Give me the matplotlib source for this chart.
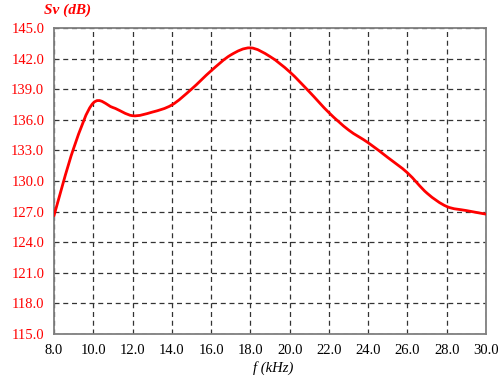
import matplotlib
matplotlib.use('Agg')
import matplotlib.pyplot as plt
from matplotlib.path import Path
from matplotlib.patches import PathPatch

# frequency (kHz) and Sv (dB)
freq = [8, 9, 10, 11, 12, 13, 14, 15, 16, 17, 18, 19, 20, 21, 22, 23, 24, 25, 26, 27, 28, 29, 30]
sv = [126.6, 133.2, 137.65, 137.2, 136.4, 136.75, 137.45, 139.0, 140.8, 142.35, 143.05, 142.2, 140.7,
      138.75, 136.7, 135.0, 133.75, 132.3, 130.8, 128.8, 127.5, 127.1, 126.75]

xticks = [8 + 2 * i for i in range(12)]
yticks = [115 + 3 * i for i in range(11)]

plt.rcParams['font.family'] = ['Liberation Serif', 'DejaVu Serif']

fig = plt.figure(figsize=(5, 3.78), dpi=100)
ax = fig.add_axes([0.108, 0.1164, 0.864, 0.8096])

# smoothed line like a spreadsheet chart: Catmull-Rom segments drawn as Bezier curves
verts = [(freq[0], sv[0])]
codes = [Path.MOVETO]
n = len(freq)
for i in range(n - 1):
    p0 = (freq[max(i - 1, 0)], sv[max(i - 1, 0)])
    p1 = (freq[i], sv[i])
    p2 = (freq[i + 1], sv[i + 1])
    p3 = (freq[min(i + 2, n - 1)], sv[min(i + 2, n - 1)])
    c1 = (p1[0] + (p2[0] - p0[0]) / 6, p1[1] + (p2[1] - p0[1]) / 6)
    c2 = (p2[0] - (p3[0] - p1[0]) / 6, p2[1] - (p3[1] - p1[1]) / 6)
    verts += [c1, c2, p2]
    codes += [Path.CURVE4] * 3
ax.add_patch(PathPatch(Path(verts, codes), fill=False, edgecolor='#ff0000', lw=2,
                       capstyle='round', joinstyle='round', zorder=3))

ax.set_xlim(8, 30)
ax.set_ylim(115, 145)
ax.set_xticks(xticks)
ax.set_yticks(yticks)
ax.set_xticklabels(['%.1f' % v for v in xticks], fontsize=10.5, color='black')
ax.set_yticklabels(['%.1f' % v for v in yticks], fontsize=10.5, color='#ff0000')
ax.tick_params(length=0, pad=7)

ax.grid(True, color='#333333', linestyle=(0, (4, 3)), lw=0.9)
for s in ax.spines.values():
    s.set_color('#7f7f7f')
    s.set_linewidth(1.3)

fig.text(0.088, 0.972, 'Sv (dB)', color='#ff0000', fontsize=11, fontweight='bold',
         fontstyle='italic', ha='left', va='center')
fig.text(0.546, 0.027, 'f (kHz)', color='black', fontsize=10.5, fontstyle='italic',
         ha='center', va='center')

fig.savefig('out.png', dpi=100)
